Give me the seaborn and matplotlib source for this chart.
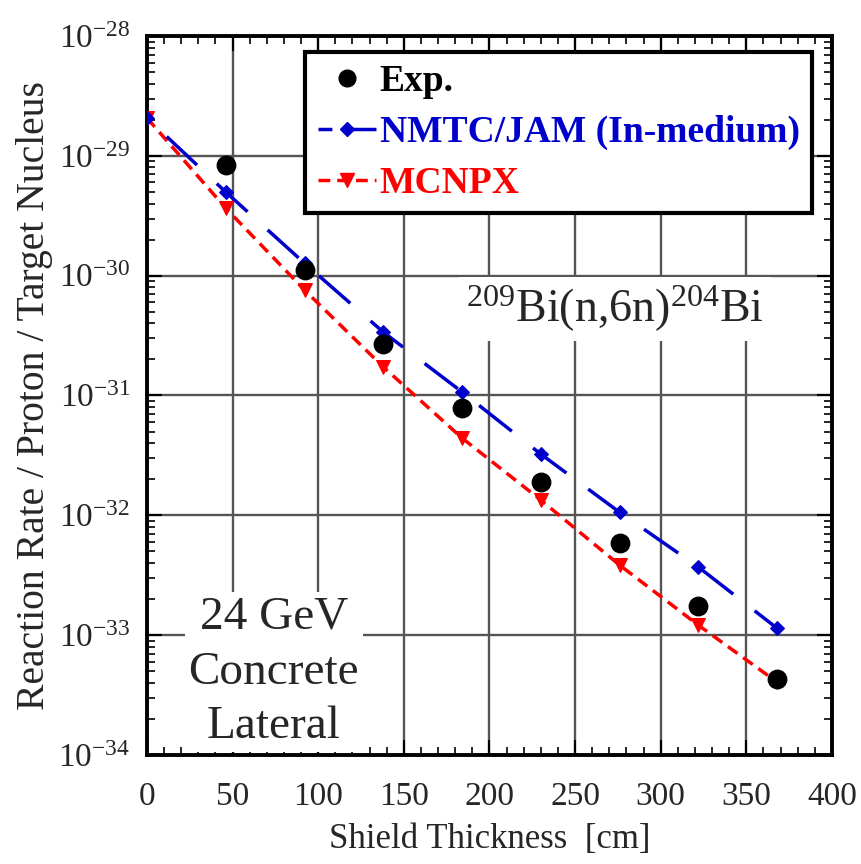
import numpy as np
import pandas as pd
import matplotlib
matplotlib.use("Agg")
import matplotlib.pyplot as plt
import seaborn as sns
from matplotlib.ticker import MultipleLocator, FixedLocator, NullFormatter
from matplotlib.lines import Line2D

# ===============================
# Aesthetic settings
# ===============================
sns.set_theme(style="ticks")
plt.rcParams['font.family'] = ['Liberation Serif', 'DejaVu Serif']
plt.rcParams['mathtext.fontset'] = 'custom'
plt.rcParams['mathtext.rm'] = 'Liberation Serif'
plt.rcParams['mathtext.it'] = 'Liberation Serif:italic'
plt.rcParams['mathtext.bf'] = 'Liberation Serif:bold'
plt.rcParams['axes.unicode_minus'] = False

# ===============================
# Data
# ===============================
thickness = [0, 46, 92, 138, 184, 230, 276, 322, 368]

exp_x = [46, 92, 138, 184, 230, 276, 322, 368]
exp_rate = [8.4e-30, 1.11e-30, 2.69e-31, 7.85e-32, 1.89e-32, 5.86e-33, 1.75e-33, 4.3e-34]

nmtc_rate = [2.07e-29, 4.99e-30, 1.27e-30, 3.38e-31, 1.07e-31, 3.24e-32, 1.06e-32, 3.70e-33, 1.14e-33]
mcnpx_rate = [2.07e-29, 3.66e-30, 7.58e-31, 1.73e-31, 4.41e-32, 1.34e-32, 3.84e-33, 1.21e-33, 4.05e-34]

decades = [-34, -33, -32, -31, -30, -29, -28]

BLUE = '#0000cc'
RED = '#ff0000'

df_exp = pd.DataFrame({'x': exp_x, 'y': exp_rate})
df_nmtc = pd.DataFrame({'x': thickness, 'y': nmtc_rate})
df_mcnpx = pd.DataFrame({'x': thickness, 'y': mcnpx_rate})

# ===============================
# Plot
# ===============================
fig = plt.figure(figsize=(8.61, 8.64), dpi=100)
ax = fig.add_axes([0.1707, 0.1262, 0.7956, 0.8321])

sns.lineplot(data=df_mcnpx, x='x', y='y', ax=ax, color=RED, lw=2.5,
             linestyle=(0, (3.4, 2.0)), marker='v', markersize=10.5,
             markeredgecolor=RED, zorder=4)
sns.lineplot(data=df_nmtc, x='x', y='y', ax=ax, color=BLUE, lw=2.5,
             linestyle=(12, (12, 7.8)), marker='D', markersize=7.5,
             markeredgecolor=BLUE, zorder=4)
sns.scatterplot(data=df_exp, x='x', y='y', ax=ax, color='black', s=175,
                edgecolor='black', zorder=5)

ax.set_yscale('log')
ax.set_xlim(0, 400)
ax.set_ylim(1e-34, 1e-28)

# ticks and grid
ax.xaxis.set_major_locator(MultipleLocator(50))
ax.xaxis.set_minor_locator(MultipleLocator(10))
major_y = [10.0 ** d for d in decades]
minor_y = [m * 10.0 ** d for d in decades[:-1] for m in range(2, 10)]
ax.yaxis.set_major_locator(FixedLocator(major_y))
ax.yaxis.set_minor_locator(FixedLocator(minor_y))
ax.yaxis.set_minor_formatter(NullFormatter())
ax.set_yticklabels([r'$\mathdefault{10^{%d}}$' % d for d in decades])
ax.tick_params(which='both', direction='in', top=True, right=True, color='black')
ax.tick_params(which='major', length=11, width=1.5)
ax.tick_params(which='minor', length=6, width=1.2)
ax.tick_params(axis='x', which='major', labelsize=24, pad=19)
ax.tick_params(axis='y', which='major', labelsize=24, pad=12)
ax.grid(True, which='major', color='#555555', lw=1.7)
for sp in ax.spines.values():
    sp.set_linewidth(2.8)
    sp.set_color('black')

ax.set_xlabel('Shield Thickness  [cm]', fontsize=25, labelpad=8)
ax.set_ylabel('Reaction Rate / Proton / Target Nucleus', fontsize=28.5, labelpad=4)

# ===============================
# Annotations
# ===============================
ax.text(0.683, 0.62, r'$^{209}$Bi(n,6n)$^{204}$Bi', transform=ax.transAxes,
        fontsize=33, ha='center', va='center',
        bbox=dict(boxstyle='square,pad=0.15', fc='white', ec='none'), zorder=3)
ax.text(0.185, 0.115, '24 GeV\nConcrete\nLateral', transform=ax.transAxes,
        fontsize=34, ha='center', va='center', multialignment='center',
        linespacing=1.38,
        bbox=dict(boxstyle='square,pad=0.08', fc='white', ec='none'), zorder=3)

# ===============================
# Legend
# ===============================
handles = [
    Line2D([], [], ls='none', marker='o', color='black', markersize=12),
    Line2D([], [], color=BLUE, lw=2.5, ls=(8, (12, 5)), marker='D', markersize=7.5),
    Line2D([], [], color=RED, lw=2.5, ls=(0, (3.4, 2.0)), marker='v', markersize=10.5),
]
labels = ['Exp.', 'NMTC/JAM (In-medium)', 'MCNPX']
leg = ax.legend(handles, labels, loc='upper right', bbox_to_anchor=(0.971, 0.978),
                borderaxespad=0, fancybox=False, framealpha=1, edgecolor='black',
                prop={'weight': 'bold', 'size': 27}, labelcolor=['black', BLUE, RED],
                handlelength=1.55, handletextpad=0.1, borderpad=0.33,
                labelspacing=0.42, numpoints=1)
leg.get_frame().set_linewidth(3)
leg.set_zorder(6)

fig.savefig('out.png', dpi=100)
